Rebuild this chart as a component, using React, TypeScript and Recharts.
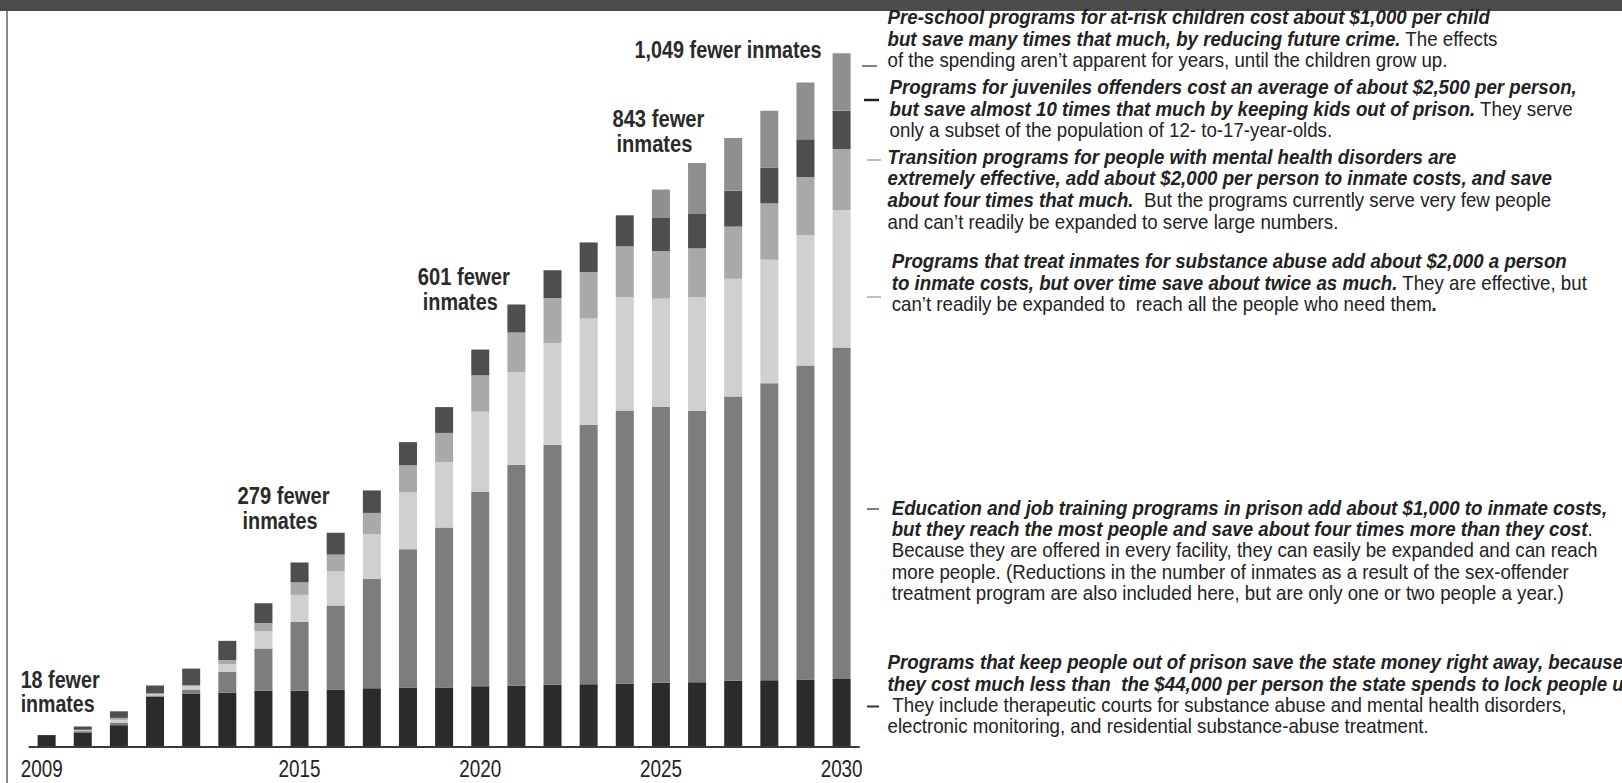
import React from "react";
import { BarChart, Bar, XAxis, YAxis, LabelList } from "recharts";

// 23 bars, only some of them carry a year label in the original graphic
const TICK_LABELS = [
  "2009", "", "", "", "", "", "", "2015", "", "", "", "",
  "2020", "", "", "", "", "2025", "", "", "", "", "2030",
];

// fewer inmates per program type (stacked bottom -> top)
const OUT_OF_PRISON = [18, 22, 33, 76, 81, 82, 85, 85, 87, 89, 90, 90, 92, 93, 94, 95, 96, 97, 98, 100, 101, 102, 103];
const EDUCATION = [0, 2, 4, 2, 6, 32, 64, 104, 127, 165, 209, 242, 294, 334, 363, 392, 413, 417, 410, 430, 449, 475, 501];
const SUBSTANCE = [0, 1, 4, 2, 4.5, 11, 26, 41, 52, 68, 86, 99, 121, 140, 154, 161, 171, 164, 172, 178, 187, 197, 208];
const TRANSITION = [0, 1, 3, 1, 2, 6.5, 12.5, 19, 25, 32, 41, 44, 55, 60, 68, 70, 77, 72, 74, 79, 85, 88, 92];
const JUVENILE = [0, 5, 10, 12, 25, 29, 30, 30, 33, 34, 35, 39, 39, 42, 42, 45, 47, 50, 52, 54, 54, 57, 58];
const PRESCHOOL = [0, 0, 0, 0, 0, 0, 0, 0, 0, 0, 0, 0, 0, 0, 0, 0, 0, 43, 77, 80, 86, 86, 87];

const SERIES = [
  { key: "out", color: "#2b2b2b" },
  { key: "edu", color: "#7d7d7d" },
  { key: "subst", color: "#d0d0d0" },
  { key: "trans", color: "#a9a9a9" },
  { key: "juv", color: "#4e4e4e" },
  { key: "presch", color: "#8f8f8f" },
];

const data = TICK_LABELS.map((label, i) => ({
  slot: i,
  label,
  out: OUT_OF_PRISON[i],
  edu: EDUCATION[i],
  subst: SUBSTANCE[i],
  trans: TRANSITION[i],
  juv: JUVENILE[i],
  presch: PRESCHOOL[i],
}));

// key of the highest non-empty segment of a bar
const topKey = (i: number) => {
  const row: any = data[i];
  let top = SERIES[0].key;
  SERIES.forEach((s) => {
    if (row[s.key] > 0) top = s.key;
  });
  return top;
};

const SANS = "'Liberation Sans', Arial, sans-serif";

// callouts above some bars; offsets are from the bar centre / stack top
const BAR_NOTES = [
  { index: 0, lines: ["18 fewer", "inmates"], anchor: "start", dx: [-26, -26], dy: [-47, -23], w: [79, 74] },
  { index: 7, lines: ["279 fewer", "inmates"], anchor: "middle", dx: [-16, -19.5], dy: [-59, -34], w: [92, 75] },
  { index: 12, lines: ["601 fewer", "inmates"], anchor: "middle", dx: [-16.5, -20], dy: [-64.5, -39.5], w: [92, 75] },
  { index: 17, lines: ["843 fewer", "inmates"], anchor: "middle", dx: [-2.5, -6.5], dy: [-62.5, -37.5], w: [92, 76] },
  { index: 22, lines: ["1,049 fewer inmates"], anchor: "end", dx: [-20], dy: [5], w: [187] },
];

type Seg = [string, boolean];
type NoteLine = { segs: Seg[]; x: number; y: number };

// side notes: [text, boldItalic]
const SIDE_NOTES: NoteLine[] = [
  { segs: [["Pre-school programs for at-risk children cost about $1,000 per child", true]], x: 887.5, y: 24 },
  { segs: [["but save many times that much, by reducing future crime.", true], [" The effects", false]], x: 887.5, y: 45.5 },
  { segs: [["of the spending aren\u2019t apparent for years, until the children grow up.", false]], x: 887.5, y: 67 },

  { segs: [["Programs for juveniles offenders cost an average of about $2,500 per person,", true]], x: 889.6, y: 94 },
  { segs: [["but save almost 10 times that much by keeping kids out of prison.", true], [" They serve", false]], x: 889.6, y: 116 },
  { segs: [["only a subset of the population of 12- to-17-year-olds.", false]], x: 889.6, y: 136.5 },

  { segs: [["Transition programs for people with mental health disorders are", true]], x: 887.5, y: 163.5 },
  { segs: [["extremely effective, add about $2,000 per person to inmate costs, and save", true]], x: 887.5, y: 185 },
  { segs: [["about four times that much.", true], ["  But the programs currently serve very few people", false]], x: 887.5, y: 207 },
  { segs: [["and can\u2019t readily be expanded to serve large numbers.", false]], x: 887.5, y: 228.5 },

  { segs: [["Programs that treat inmates for substance abuse add about $2,000 a person", true]], x: 891.7, y: 268 },
  { segs: [["to inmate costs, but over time save about twice as much.", true], [" They are effective, but", false]], x: 891.7, y: 289.5 },
  { segs: [["can\u2019t readily be expanded to  reach all the people who need them", false], [".", true]], x: 891.7, y: 311 },

  { segs: [["Education and job training programs in prison add about $1,000 to inmate costs,", true]], x: 891.7, y: 515 },
  { segs: [["but they reach the most people and save about four times more than they cost", true], [".", false]], x: 891.7, y: 535.6 },
  { segs: [["Because they are offered in every facility, they can easily be expanded and can reach", false]], x: 891.7, y: 557.4 },
  { segs: [["more people. (Reductions in the number of inmates as a result of the sex-offender", false]], x: 891.7, y: 579 },
  { segs: [["treatment program are also included here, but are only one or two people a year.)", false]], x: 891.7, y: 600 },

  { segs: [["Programs that keep people out of prison save the state money right away, because", true]], x: 887.5, y: 669 },
  { segs: [["they cost much less than  the $44,000 per person the state spends to lock people up.", true]], x: 887.5, y: 691 },
  { segs: [[" They include therapeutic courts for substance abuse and mental health disorders,", false]], x: 887.5, y: 711.5 },
  { segs: [["electronic monitoring, and residential substance-abuse treatment.", false]], x: 887.5, y: 733 },
];

const NOTE_FONT = 20.5;
const NOTE_SQUEEZE = 0.912;

// small leader dashes between the last bar and the notes
const LEADERS = [
  { x1: 862, x2: 877, y: 66, c: "#555", sw: 1.5 },
  { x1: 864, x2: 879, y: 100, c: "#222", sw: 2.5 },
  { x1: 867, x2: 881, y: 160, c: "#aaa", sw: 1.5 },
  { x1: 867, x2: 881, y: 297, c: "#aaa", sw: 1.5 },
  { x1: 867, x2: 879, y: 509, c: "#555", sw: 1.5 },
  { x1: 867, x2: 879, y: 706.5, c: "#333", sw: 2 },
];

function YearTick(props: any) {
  const { x, y, payload } = props;
  const label = TICK_LABELS[payload.value];
  if (!label) return null;
  // the first year label sits flush with the start of the axis
  const first = payload.value === 0;
  return (
    <text
      x={first ? x - 26 : x}
      y={y + 22}
      textAnchor={first ? "start" : "middle"}
      fontFamily={SANS}
      fontSize={23}
      fill="#222"
      textLength={42}
      lengthAdjust="spacingAndGlyphs"
    >
      {label}
    </text>
  );
}

// label renderer for one series: only draws on the topmost segment of an annotated bar
const noteRenderer = (seriesKey: string) => (props: any) => {
  const vb = props.viewBox || props;
  const slot = Number(props.value);
  const note = BAR_NOTES.find((n) => n.index === slot);
  if (!note || topKey(slot) !== seriesKey) return null;
  const cx = vb.x + vb.width / 2;
  return (
    <g key={`note-${slot}`}>
      {note.lines.map((line, k) => (
        <text
          key={k}
          x={cx + note.dx[k]}
          y={vb.y + note.dy[k]}
          textAnchor={note.anchor as any}
          fontFamily={SANS}
          fontWeight={700}
          fontSize={23}
          fill="#2a2a2a"
          textLength={note.w[k]}
          lengthAdjust="spacingAndGlyphs"
        >
          {line}
        </text>
      ))}
    </g>
  );
};

export default function App() {
  return (
    <div style={{ position: "absolute", left: 0, top: 0, width: 1622, height: 783, background: "#fff", overflow: "hidden" }}>
      <div style={{ position: "absolute", left: 0, top: 0, width: 1622, height: 11, background: "#4b4b4b" }} />
      <div style={{ position: "absolute", left: 6, top: 11, width: 1.5, height: 772, background: "#8a8a8a" }} />
      <div style={{ position: "absolute", left: 0, top: 0 }}>
        <BarChart
          width={880}
          height={783}
          data={data}
          margin={{ top: 19.6, right: 20.3, bottom: 6, left: 28.6 }}
          barCategoryGap="25%"
        >
          <YAxis hide domain={[0, 1100]} type="number" />
          <XAxis
            dataKey="slot"
            type="category"
            interval={0}
            height={30}
            tickLine={false}
            axisLine={{ stroke: "#3a3a3a", strokeWidth: 2 }}
            tick={(p: any) => <YearTick {...p} />}
          />
          {SERIES.map((s) => (
            <Bar key={s.key} dataKey={s.key} stackId="a" fill={s.color} isAnimationActive={false}>
              <LabelList dataKey="slot" content={noteRenderer(s.key)} />
            </Bar>
          ))}
        </BarChart>
      </div>
      <svg
        width={1622}
        height={783}
        style={{ position: "absolute", left: 0, top: 0, pointerEvents: "none" }}
      >
        {LEADERS.map((l, i) => (
          <line key={i} x1={l.x1} x2={l.x2} y1={l.y} y2={l.y} stroke={l.c} strokeWidth={l.sw} />
        ))}
        {SIDE_NOTES.map((line, i) => (
          <text
            key={i}
            x={0}
            y={0}
            transform={`translate(${line.x} ${line.y}) scale(${NOTE_SQUEEZE} 1)`}
            fontFamily={SANS}
            fontSize={NOTE_FONT}
            fill="#222"
            xmlSpace="preserve"
          >
            {line.segs.map(([t, b], k) => (
              <tspan key={k} fontWeight={b ? 700 : 400} fontStyle={b ? "italic" : "normal"}>
                {t}
              </tspan>
            ))}
          </text>
        ))}
      </svg>
    </div>
  );
}
